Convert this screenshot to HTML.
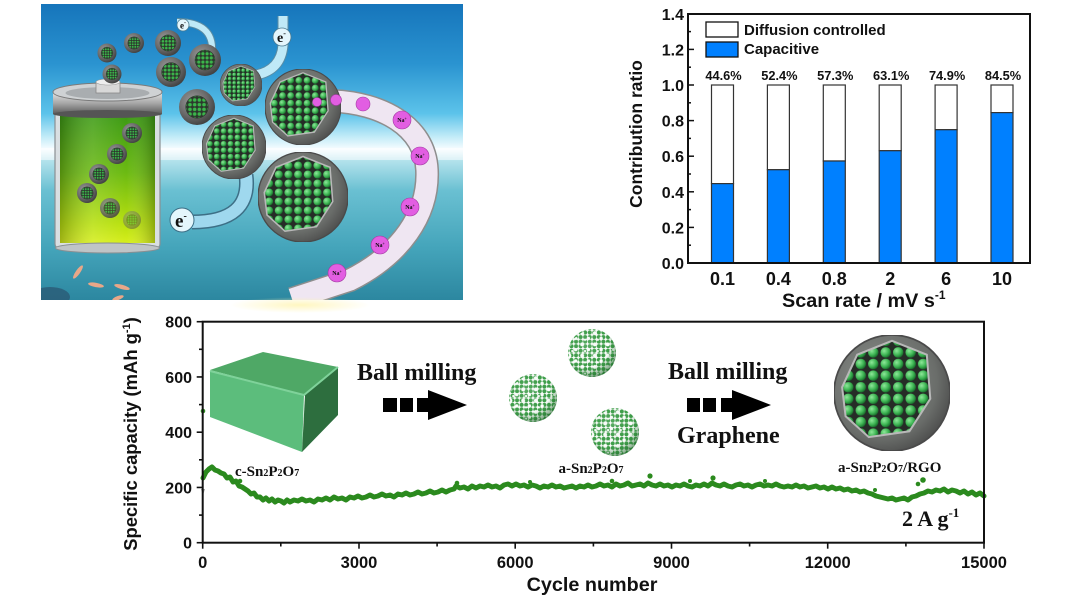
<!DOCTYPE html>
<html><head><meta charset="utf-8"><style>
html,body{margin:0;padding:0;background:#fff;overflow:hidden}
svg{display:block}
.s{font-family:"Liberation Sans",Arial,sans-serif;font-weight:bold;fill:#111}
.r{font-family:"Liberation Serif","Times New Roman",serif;font-weight:bold;fill:#111}
</style></head><body>
<svg width="1080" height="600" viewBox="0 0 1080 600" xmlns="http://www.w3.org/2000/svg">
<defs>
<clipPath id="ic"><rect x="41" y="4" width="422" height="296"/></clipPath>
<linearGradient id="sky" x1="0" y1="4" x2="0" y2="300" gradientUnits="userSpaceOnUse">
<stop offset="0" stop-color="#1675bb"/><stop offset=".2" stop-color="#2a93d0"/><stop offset=".37" stop-color="#5cc3ea"/><stop offset=".45" stop-color="#c4ecf8"/><stop offset=".49" stop-color="#f6fcff"/><stop offset=".53" stop-color="#b2e2ec"/><stop offset=".63" stop-color="#6ac0d2"/><stop offset=".82" stop-color="#45a5bb"/><stop offset="1" stop-color="#2c87a0"/>
</linearGradient>
<radialGradient id="pg" cx=".38" cy=".35" r=".72"><stop offset="0" stop-color="#9c9c9c"/><stop offset=".6" stop-color="#676767"/><stop offset="1" stop-color="#3a3a3a"/></radialGradient>
<radialGradient id="pg2" cx=".4" cy=".4" r=".7"><stop offset="0" stop-color="#8f938f"/><stop offset=".7" stop-color="#6a6d6a"/><stop offset="1" stop-color="#444"/></radialGradient>
<linearGradient id="bg" x1="0" y1="0" x2="0" y2="1"><stop offset="0" stop-color="#3c9a14"/><stop offset=".45" stop-color="#6cba12"/><stop offset=".85" stop-color="#b8e00e"/><stop offset="1" stop-color="#d6ee1c"/></linearGradient>
<linearGradient id="bh" x1="0" y1="0" x2="1" y2="0"><stop offset="0" stop-color="#000" stop-opacity=".25"/><stop offset=".35" stop-color="#fff" stop-opacity=".12"/><stop offset=".7" stop-color="#fff" stop-opacity="0"/><stop offset="1" stop-color="#000" stop-opacity=".25"/></linearGradient>
<linearGradient id="cap" x1="0" y1="0" x2="0" y2="1"><stop offset="0" stop-color="#e6e6e6"/><stop offset=".5" stop-color="#a8a8a8"/><stop offset="1" stop-color="#5c5c5c"/></linearGradient>
<radialGradient id="ballg" cx=".35" cy=".35" r=".7"><stop offset="0" stop-color="#8fe89a"/><stop offset=".6" stop-color="#3cb452"/><stop offset="1" stop-color="#17692a"/></radialGradient>
<pattern id="gdot" patternUnits="userSpaceOnUse" width="2.6" height="2.6"><circle cx="1.3" cy="1.3" r="1" fill="#3bb54a"/></pattern>
<pattern id="gball" patternUnits="userSpaceOnUse" width="2.15" height="2.0"><circle cx="1.07" cy="1.0" r=".9" fill="url(#ballg)"/></pattern>
<pattern id="adot" patternUnits="userSpaceOnUse" width="1.9" height="1.9"><circle cx=".95" cy=".95" r=".85" fill="#3f9e4a"/></pattern>
<pattern id="aw" patternUnits="userSpaceOnUse" width="5.3" height="4.7"><circle cx="1.2" cy="1.1" r=".8" fill="#fff"/><circle cx="3.8" cy="3.3" r=".7" fill="#fff"/><circle cx="2.4" cy="3.9" r=".5" fill="#fff"/></pattern>
<radialGradient id="ashade" cx=".4" cy=".35" r=".68"><stop offset="0" stop-color="#fff" stop-opacity=".15"/><stop offset=".65" stop-color="#2a7a34" stop-opacity="0"/><stop offset="1" stop-color="#1c5e26" stop-opacity=".6"/></radialGradient>
<radialGradient id="glow" cx=".5" cy=".5" r=".5"><stop offset="0" stop-color="#fff4b0" stop-opacity=".8"/><stop offset="1" stop-color="#fff4b0" stop-opacity="0"/></radialGradient>
<symbol id="sp" viewBox="-10 -10 20 20"><circle r="10" fill="url(#pg)"/><circle r="6.4" fill="#2c372d"/><circle r="6" fill="url(#gdot)"/></symbol>
<symbol id="bp" viewBox="-10 -10 20 20"><circle r="10" fill="url(#pg2)" stroke="#4a4a4a" stroke-width=".3"/><path d="M-8.6,-1 L-6,-6.6 L0,-9 L6,-6.6 L6.6,1 L3,6.6 L-4,7.6 L-8,4 Z" fill="#262c27"/><path d="M-8.6,-1 L-6,-6.6 L0,-9 L6,-6.6 L6.6,1 L3,6.6 L-4,7.6 L-8,4 Z" fill="url(#gball)" stroke="#b8b8b8" stroke-width=".35"/></symbol>
<symbol id="as" viewBox="-10 -10 20 20"><circle r="10" fill="#fff"/><circle r="10" fill="url(#adot)"/><circle r="9.5" fill="url(#aw)"/><circle r="10" fill="url(#ashade)"/></symbol>
</defs>

<!-- ===== Illustration ===== -->
<g clip-path="url(#ic)">
<rect x="41" y="4" width="422" height="296" fill="url(#sky)"/>
<rect x="41" y="148" width="422" height="12" fill="#ffffff" opacity=".5"/>
<ellipse cx="50" cy="297" rx="20" ry="10" fill="#2a5a76" opacity=".8"/>
<g fill="#e9a788">
<ellipse cx="78" cy="272" rx="8" ry="2.2" transform="rotate(-55 78 272)"/>
<ellipse cx="96" cy="285" rx="8" ry="2.2" transform="rotate(10 96 285)"/>
<ellipse cx="122" cy="287" rx="8" ry="2.2" transform="rotate(15 122 287)"/>
<ellipse cx="118" cy="298" rx="6" ry="2" transform="rotate(-20 118 298)"/>
</g>
<!-- battery -->
<rect x="55" y="100" width="105" height="148" rx="4" fill="#d9dfe2" stroke="#8a8f92" stroke-width="1.2"/>
<rect x="60" y="115" width="95" height="128" fill="url(#bg)"/>
<rect x="60" y="115" width="95" height="128" fill="url(#bh)"/>
<ellipse cx="107.5" cy="248" rx="52" ry="5" fill="#bfc4c6" stroke="#8a8f92"/>
<rect x="53" y="92" width="109" height="22" fill="url(#cap)"/>
<ellipse cx="107.5" cy="114" rx="54.5" ry="4" fill="#555"/>
<ellipse cx="107.5" cy="92" rx="54.5" ry="9" fill="#cfd2d4" stroke="#7a7a7a" stroke-width="1"/>
<ellipse cx="107.5" cy="93" rx="42" ry="6" fill="#a9adb0"/>
<rect x="96" y="82" width="24" height="11" fill="#d8d8d8" stroke="#888" stroke-width=".8"/>
<ellipse cx="108" cy="82" rx="12" ry="3" fill="#eee" stroke="#999" stroke-width=".6"/>
<!-- electron bands -->
<path d="M177,22 Q214,22 212,52" fill="none" stroke="#5b8ca3" stroke-width="8"/>
<path d="M177,22 Q214,22 212,52" fill="none" stroke="#bfe9f7" stroke-width="6"/>
<path d="M283,16 L283,45 Q281,70 256,75" fill="none" stroke="#5b8ca3" stroke-width="11"/>
<path d="M283,16 L283,45 Q281,70 256,75" fill="none" stroke="#bfe9f7" stroke-width="9"/>
<path d="M246,175 Q252,222 192,222" fill="none" stroke="#3d6f86" stroke-width="15"/>
<path d="M246,175 Q252,222 192,222" fill="none" stroke="#9fd8ee" stroke-width="12"/>
<!-- Na path -->
<path d="M333,101 C380,103 425,125 427,170 C429,215 400,255 350,280 L292,299" fill="none" stroke="#8e8e8e" stroke-width="24"/>
<path d="M333,101 C380,103 425,125 427,170 C429,215 400,255 350,280 L292,299" fill="none" stroke="#efe6f2" stroke-width="21"/>
<!-- particles -->
<use href="#sp" x="97.5" y="43.5" width="19" height="19"/>
<use href="#sp" x="124" y="33" width="20" height="20"/>
<use href="#sp" x="102.5" y="64.5" width="19" height="19"/>
<use href="#sp" x="155" y="30" width="26" height="26"/>
<use href="#sp" x="156" y="57" width="30" height="30"/>
<use href="#sp" x="189" y="44" width="32" height="32"/>
<use href="#sp" x="179" y="89" width="36" height="36"/>
<use href="#bp" x="220" y="64" width="42" height="42"/>
<use href="#bp" x="202" y="115" width="64" height="64"/>
<use href="#bp" x="265" y="69" width="76" height="76"/>
<use href="#bp" x="258" y="152" width="90" height="90"/>
<use href="#sp" x="122" y="123" width="20" height="20"/>
<use href="#sp" x="107" y="144" width="20" height="20"/>
<use href="#sp" x="89" y="164" width="20" height="20"/>
<use href="#sp" x="77" y="183" width="20" height="20"/>
<use href="#sp" x="100" y="198" width="20" height="20" opacity=".85"/>
<use href="#sp" x="123" y="211" width="18" height="18" opacity=".45"/>
<!-- e- labels -->
<circle cx="183" cy="25" r="6" fill="#e4f6fc" stroke="#4a7a90" stroke-width=".8"/>
<text class="r" x="180" y="28.5" font-size="9">e<tspan font-size="6" dy="-4">-</tspan></text>
<circle cx="282" cy="37" r="9" fill="#e4f6fc" stroke="#4a7a90" stroke-width=".8"/>
<text class="r" x="277" y="42" font-size="14">e<tspan font-size="8" dy="-6">-</tspan></text>
<circle cx="182" cy="220" r="12" fill="#e4f6fc" stroke="#3d6f86" stroke-width="1"/>
<text class="r" x="175" y="227" font-size="19">e<tspan font-size="10" dy="-8">-</tspan></text>
<!-- Na+ -->
<g fill="#e25ee2" stroke="#a33aa3" stroke-width=".6">
<circle cx="317" cy="102" r="4.5"/><circle cx="336" cy="100" r="5.5"/><circle cx="363" cy="104" r="7"/>
<circle cx="402" cy="120" r="9"/><circle cx="420" cy="156" r="9"/><circle cx="410" cy="207" r="9"/>
<circle cx="380" cy="245" r="9"/><circle cx="337" cy="273" r="9"/>
</g>
<g class="r" font-size="6" font-weight="normal" text-anchor="middle">
<text x="402" y="122">Na<tspan dy="-2" font-size="4">+</tspan></text>
<text x="420" y="158">Na<tspan dy="-2" font-size="4">+</tspan></text>
<text x="410" y="209">Na<tspan dy="-2" font-size="4">+</tspan></text>
<text x="380" y="247">Na<tspan dy="-2" font-size="4">+</tspan></text>
<text x="337" y="275">Na<tspan dy="-2" font-size="4">+</tspan></text>
</g>
</g>
<ellipse cx="300" cy="305" rx="70" ry="8" fill="url(#glow)"/>

<!-- ===== Top-right bar chart ===== -->
<g>
<g stroke="#333" stroke-width="1.2">
<rect x="711.5" y="85" width="22" height="98.6" fill="#fff"/><rect x="711.5" y="183.6" width="22" height="79.4" fill="#0080ff"/>
<rect x="767.4" y="85" width="22" height="84.7" fill="#fff"/><rect x="767.4" y="169.7" width="22" height="93.3" fill="#0080ff"/>
<rect x="823.3" y="85" width="22" height="76" fill="#fff"/><rect x="823.3" y="161" width="22" height="102" fill="#0080ff"/>
<rect x="879.2" y="85" width="22" height="65.7" fill="#fff"/><rect x="879.2" y="150.7" width="22" height="112.3" fill="#0080ff"/>
<rect x="935.1" y="85" width="22" height="44.7" fill="#fff"/><rect x="935.1" y="129.7" width="22" height="133.3" fill="#0080ff"/>
<rect x="991" y="85" width="22" height="27.6" fill="#fff"/><rect x="991" y="112.6" width="22" height="150.4" fill="#0080ff"/>
</g>
<rect x="688" y="14" width="342" height="249" fill="none" stroke="#111" stroke-width="2"/>
<g stroke="#111" stroke-width="1.5">
<line x1="688" y1="227.4" x2="694" y2="227.4"/><line x1="688" y1="191.8" x2="694" y2="191.8"/><line x1="688" y1="156.2" x2="694" y2="156.2"/><line x1="688" y1="120.6" x2="694" y2="120.6"/><line x1="688" y1="85" x2="694" y2="85"/><line x1="688" y1="49.4" x2="694" y2="49.4"/>
<line x1="688" y1="245.2" x2="691" y2="245.2"/><line x1="688" y1="209.6" x2="691" y2="209.6"/><line x1="688" y1="174" x2="691" y2="174"/><line x1="688" y1="138.4" x2="691" y2="138.4"/><line x1="688" y1="102.8" x2="691" y2="102.8"/><line x1="688" y1="67.2" x2="691" y2="67.2"/><line x1="688" y1="31.6" x2="691" y2="31.6"/>
</g>
<g class="s" font-size="16" text-anchor="end">
<text x="684" y="269">0.0</text><text x="684" y="233.4">0.2</text><text x="684" y="197.8">0.4</text><text x="684" y="162.2">0.6</text><text x="684" y="126.6">0.8</text><text x="684" y="91">1.0</text><text x="684" y="55.4">1.2</text><text x="684" y="19.8">1.4</text>
</g>
<g class="s" font-size="18" text-anchor="middle">
<text x="722.5" y="285">0.1</text><text x="778.4" y="285">0.4</text><text x="834.3" y="285">0.8</text><text x="890.2" y="285">2</text><text x="946.1" y="285">6</text><text x="1002" y="285">10</text>
</g>
<g class="s" font-size="12.8" text-anchor="middle">
<text x="723.5" y="80">44.6%</text><text x="779.4" y="80">52.4%</text><text x="835.3" y="80">57.3%</text><text x="891.2" y="80">63.1%</text><text x="947.1" y="80">74.9%</text><text x="1003" y="80">84.5%</text>
</g>
<rect x="706" y="22" width="32" height="15" fill="#fff" stroke="#111" stroke-width="1.3"/>
<rect x="706" y="42" width="32" height="15" fill="#0080ff" stroke="#111" stroke-width="1.3"/>
<text class="s" x="744" y="35" font-size="15">Diffusion controlled</text>
<text class="s" x="744" y="54" font-size="15">Capacitive</text>
<text class="s" font-size="17.5" text-anchor="middle" transform="translate(642 134) rotate(-90)">Contribution ratio</text>
<text class="s" x="782" y="307" font-size="19.8">Scan rate / mV s<tspan font-size="12" dy="-8">-1</tspan></text>
</g>

<!-- ===== Bottom chart ===== -->
<g>
<path d="M210,370 L263,352 L338,367 L305,395 Z" fill="#4fa866"/>
<path d="M210,371 L304,395 L302,452 L210,417 Z" fill="#5cbd7c"/>
<path d="M305,395 L338,367 L338,415 L302,452 Z" fill="#2d6e3e"/>
<path d="M210,371 L304,395 L338,367" fill="none" stroke="#7fd29a" stroke-width="2" stroke-linejoin="round"/>
<use href="#as" x="568" y="329" width="48" height="48"/>
<use href="#as" x="509" y="374" width="48" height="48"/>
<use href="#as" x="591" y="408" width="48" height="48"/>
<use href="#bp" x="834" y="335" width="116" height="116"/>

<text class="r" x="357" y="380" font-size="24">Ball milling</text>
<g fill="#000">
<rect x="383" y="398" width="14" height="14"/><rect x="400" y="398" width="13" height="14"/><rect x="417" y="398" width="12" height="14"/>
<path d="M428,390 L467,405 L428,420 Z"/>
<rect x="687" y="398" width="13" height="14"/><rect x="703" y="398" width="13" height="14"/><rect x="721" y="398" width="12" height="14"/>
<path d="M732,390 L771,405 L732,420 Z"/>
</g>
<text class="r" x="668" y="379" font-size="24">Ball milling</text>
<text class="r" x="677" y="443" font-size="24">Graphene</text>
<text class="r" x="235" y="476" font-size="15">c-Sn<tspan font-size="10">2</tspan>P<tspan font-size="10">2</tspan>O<tspan font-size="10">7</tspan></text>
<text class="r" x="591" y="473" font-size="15" text-anchor="middle">a-Sn<tspan font-size="10">2</tspan>P<tspan font-size="10">2</tspan>O<tspan font-size="10">7</tspan></text>
<text class="r" x="838" y="472" font-size="15">a-Sn<tspan font-size="10">2</tspan>P<tspan font-size="10">2</tspan>O<tspan font-size="10">7</tspan>/RGO</text>
<text class="r" x="902" y="526" font-size="22">2 A g<tspan font-size="13" dy="-9">-1</tspan></text>

<polyline fill="none" stroke="#2b8a1e" stroke-width="5" stroke-linejoin="round" stroke-linecap="round" points="203,478 206,472 209,469 212,467 215,470 218,471 221,473 224,474 227,478 230,477 233,482 236,481 239,486 242,487 245,489 248,491 251,494 254,493 257,497 260,497 263,500 266,498 269,501 272,499 275,502 278,500 281,501 284,503 287,500 290,502 294,500 298,501 302,499 306,501 310,500 314,502 318,499 322,500 326,498 330,500 334,497 338,499 342,498 346,500 350,497 354,498 358,496 362,498 366,497 370,495 374,497 378,496 382,494 386,496 390,495 394,497 398,494 402,495 406,493 410,495 414,494 418,492 422,494 426,493 430,491 434,493 438,492 442,490 446,492 450,490 454,489 456,486 460,488 464,487 468,489 472,486 476,488 480,486 484,487 488,485 492,487 496,486 500,488 504,485 508,484 512,486 516,484 520,486 524,485 528,487 532,485 536,486 540,488 544,486 548,487 552,485 556,487 560,486 564,488 568,487 572,486 576,488 580,486 584,487 588,485 592,487 596,486 600,484 604,486 608,485 612,487 616,484 620,486 624,485 628,483 632,486 636,485 640,484 644,486 648,483 652,485 656,486 660,484 664,486 668,485 672,487 676,485 680,486 684,484 688,486 692,487 696,485 700,486 704,484 708,486 712,483 716,485 720,486 724,484 728,486 732,487 736,485 740,484 744,486 748,485 752,487 756,485 760,484 764,486 768,485 772,486 776,484 780,486 784,487 788,486 792,487 796,485 800,487 804,486 808,488 812,487 816,486 820,488 824,487 828,489 832,487 836,489 840,488 844,490 848,489 852,491 856,490 860,492 864,491 868,493 872,494 876,496 880,497 884,498 888,499 892,498 896,500 900,499 904,498 908,500 912,497 916,496 920,494 924,493 928,491 932,492 936,490 940,491 944,489 948,492 952,490 956,491 960,493 964,491 968,494 972,492 976,495 980,493 984,496"/>
<g fill="#2b8a1e">
<circle cx="203" cy="411" r="2.3"/><circle cx="650" cy="476" r="2.6"/><circle cx="612" cy="481" r="2.3"/><circle cx="713" cy="478" r="2.6"/>
<circle cx="923" cy="480" r="2.8"/><circle cx="918" cy="484" r="2.3"/><circle cx="457" cy="483" r="2.3"/><circle cx="240" cy="481" r="2.3"/>
<circle cx="530" cy="482" r="2"/><circle cx="690" cy="481" r="2"/><circle cx="765" cy="481" r="2"/><circle cx="875" cy="490" r="2"/>
</g>
<path d="M201,489 L205,489 L203,495 Z" fill="#999"/>

<rect x="202.7" y="321.7" width="781.3" height="221" fill="none" stroke="#111" stroke-width="2"/>
<g stroke="#111" stroke-width="1.6">
<line x1="196.7" y1="542.7" x2="202.7" y2="542.7"/><line x1="196.7" y1="487.45" x2="202.7" y2="487.45"/><line x1="196.7" y1="432.2" x2="202.7" y2="432.2"/><line x1="196.7" y1="376.95" x2="202.7" y2="376.95"/><line x1="196.7" y1="321.7" x2="202.7" y2="321.7"/>
<line x1="199" y1="515.1" x2="202.7" y2="515.1"/><line x1="199" y1="459.8" x2="202.7" y2="459.8"/><line x1="199" y1="404.6" x2="202.7" y2="404.6"/><line x1="199" y1="349.3" x2="202.7" y2="349.3"/>
<line x1="202.7" y1="542.7" x2="202.7" y2="548.7"/><line x1="359" y1="542.7" x2="359" y2="548.7"/><line x1="515.2" y1="542.7" x2="515.2" y2="548.7"/><line x1="671.5" y1="542.7" x2="671.5" y2="548.7"/><line x1="827.7" y1="542.7" x2="827.7" y2="548.7"/><line x1="984" y1="542.7" x2="984" y2="548.7"/>
<line x1="280.8" y1="542.7" x2="280.8" y2="546.5"/><line x1="437.1" y1="542.7" x2="437.1" y2="546.5"/><line x1="593.4" y1="542.7" x2="593.4" y2="546.5"/><line x1="749.6" y1="542.7" x2="749.6" y2="546.5"/><line x1="905.9" y1="542.7" x2="905.9" y2="546.5"/>
</g>
<g class="s" font-size="16" text-anchor="end">
<text x="192" y="548.5">0</text><text x="192" y="493.3">200</text><text x="192" y="438">400</text><text x="192" y="382.8">600</text><text x="192" y="327.5">800</text>
</g>
<g class="s" font-size="16.5" text-anchor="middle">
<text x="202.7" y="568">0</text><text x="359" y="568">3000</text><text x="515.2" y="568">6000</text><text x="671.5" y="568">9000</text><text x="827.7" y="568">12000</text><text x="984" y="568">15000</text>
</g>
<text class="s" x="592" y="591" font-size="19.8" text-anchor="middle">Cycle number</text>
<text class="s" font-size="18.4" text-anchor="middle" transform="translate(137 434) rotate(-90)">Specific capacity (mAh g<tspan font-size="11" dy="-7">-1</tspan><tspan dy="7">)</tspan></text>
</g>
</svg>
</body></html>
